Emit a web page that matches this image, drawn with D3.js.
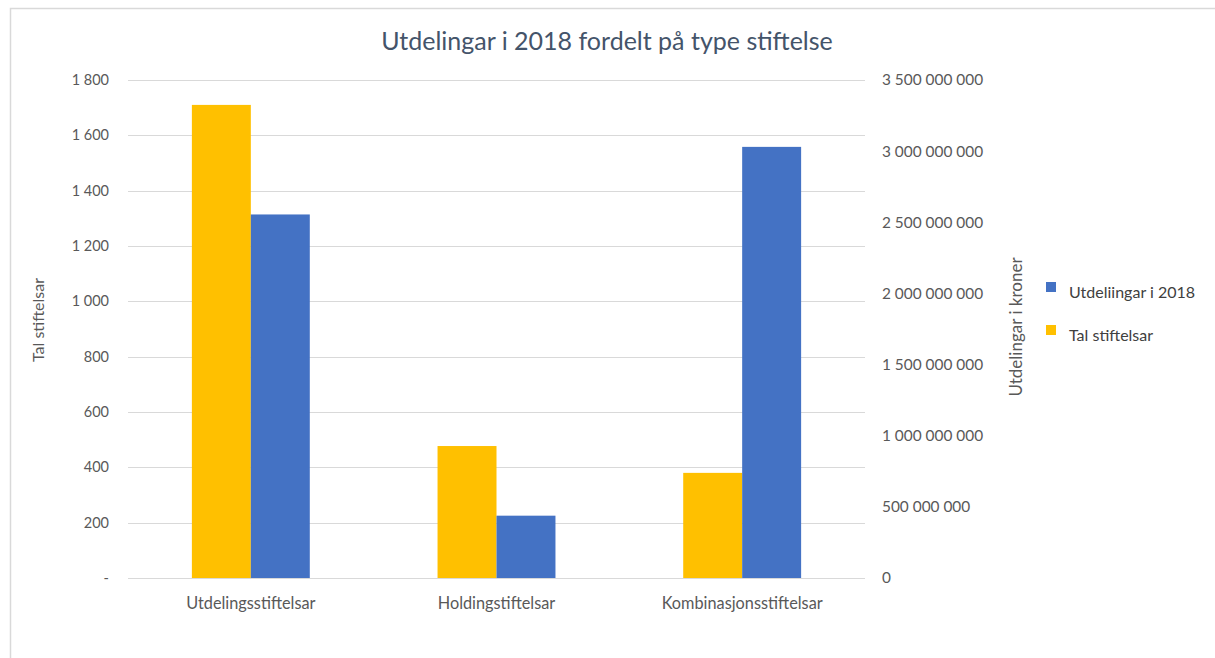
<!DOCTYPE html>
<html><head><meta charset="utf-8">
<script src="https://cdn.jsdelivr.net/npm/d3@7"></script>
<style>
html,body{margin:0;padding:0;background:#fff;}
svg{display:block;}
text{font-family:Lato,"Open Sans",sans-serif;}
</style></head>
<body>
<svg id="chart" width="1215" height="658"></svg>
<script>
const categories = ["Utdelingsstiftelsar", "Holdingstiftelsar", "Kombinasjonsstiftelsar"];
const talStiftelsar = [1710, 477, 380];
const utdelingar = [2555000000, 438000000, 3030000000];
const leftTicks = [0, 200, 400, 600, 800, 1000, 1200, 1400, 1600, 1800];
const rightTicks = [0, 500000000, 1000000000, 1500000000, 2000000000, 2500000000, 3000000000, 3500000000];
const seriesNames = ["Utdeliingar i 2018", "Tal stiftelsar"];
const colors = {yellow: "#ffc000", blue: "#4472c4"};

const svg = d3.select("#chart");
const W = 1215, H = 658;
const plot = {x0: 128, x1: 865, y0: 80, y1: 578};

// frame
svg.append("path").attr("d", `M10.5,${H} V8.5 H${W}`).attr("fill", "none")
  .attr("stroke", "#d9d9d9").attr("stroke-width", 1.5);

const x = d3.scaleBand().domain(categories).range([plot.x0, plot.x1])
  .paddingInner(0.52).paddingOuter(0.26);
const yL = d3.scaleLinear().domain([0, 1800]).range([plot.y1, plot.y0]);
const yR = d3.scaleLinear().domain([0, 3500000000]).range([plot.y1, plot.y0]);

const fmtL = v => v === 0 ? "-" : d3.format(",")(v).replace(/,/g, " ");
const fmtR = v => d3.format(",")(v).replace(/,/g, " ");

// gridlines
svg.append("g").selectAll("line").data(leftTicks).join("line")
  .attr("x1", plot.x0).attr("x2", plot.x1)
  .attr("y1", d => Math.round(yL(d)) + 0.5).attr("y2", d => Math.round(yL(d)) + 0.5)
  .attr("stroke", "#d9d9d9").attr("stroke-width", 1);

// left axis
const axL = d3.axisLeft(yL).tickValues(leftTicks).tickFormat(fmtL).tickSize(0).tickPadding(0);
const gL = svg.append("g").attr("transform", `translate(109,0)`).call(axL);
gL.select(".domain").remove();
gL.selectAll("text").attr("fill", "#595959").style("font-size", "14.5px")
  .style("font-family", "Lato, sans-serif");

// right axis
const axR = d3.axisRight(yR).tickValues(rightTicks).tickFormat(fmtR).tickSize(0).tickPadding(0);
const gR = svg.append("g").attr("transform", `translate(882,0)`).call(axR);
gR.select(".domain").remove();
gR.selectAll("text").attr("fill", "#595959").style("font-size", "15.4px")
  .style("font-family", "Lato, sans-serif");

// bars
const bw = x.bandwidth() / 2;
svg.append("g").selectAll("rect").data(categories).join("rect")
  .attr("x", d => x(d)).attr("width", bw)
  .attr("y", (d, i) => yL(talStiftelsar[i]))
  .attr("height", (d, i) => plot.y1 - yL(talStiftelsar[i]))
  .attr("fill", colors.yellow);
svg.append("g").selectAll("rect").data(categories).join("rect")
  .attr("x", d => x(d) + bw).attr("width", bw)
  .attr("y", (d, i) => yR(utdelingar[i]))
  .attr("height", (d, i) => plot.y1 - yR(utdelingar[i]))
  .attr("fill", colors.blue);

// x axis
const axX = d3.axisBottom(x).tickSize(0).tickPadding(0);
const gX = svg.append("g").attr("transform", `translate(0,${plot.y1})`).call(axX);
gX.select(".domain").attr("stroke", "#d9d9d9").attr("d", `M${plot.x0},0.5H${plot.x1}`);
gX.selectAll("text").attr("fill", "#595959").style("font-size", "16.3px")
  .attr("dy", null).attr("y", 31).style("font-family", "Lato, sans-serif");

// title
svg.append("text").attr("x", 607).attr("y", 50).attr("text-anchor", "middle")
  .attr("fill", "#44546a").style("font-size", "25px")
  .text("Utdelingar i 2018 fordelt på type stiftelse");

// axis titles
svg.append("text").attr("transform", "translate(44,320) rotate(-90)")
  .attr("text-anchor", "middle").attr("fill", "#595959").style("font-size", "16px")
  .text("Tal stiftelsar");
svg.append("text").attr("transform", "translate(1022,327) rotate(-90)")
  .attr("text-anchor", "middle").attr("fill", "#595959").style("font-size", "17px")
  .text("Utdelingar i kroner");

// legend
const legend = svg.append("g");
const legItems = [{name: seriesNames[0], c: colors.blue, y: 282}, {name: seriesNames[1], c: colors.yellow, y: 325}];
legend.selectAll("rect").data(legItems).join("rect")
  .attr("x", 1046).attr("y", d => d.y).attr("width", 10).attr("height", 10).attr("fill", d => d.c);
legend.selectAll("text").data(legItems).join("text")
  .attr("x", 1069).attr("y", d => d.y + 16).attr("fill", "#404040").style("font-size", "16px")
  .text(d => d.name);
</script>
</body></html>
